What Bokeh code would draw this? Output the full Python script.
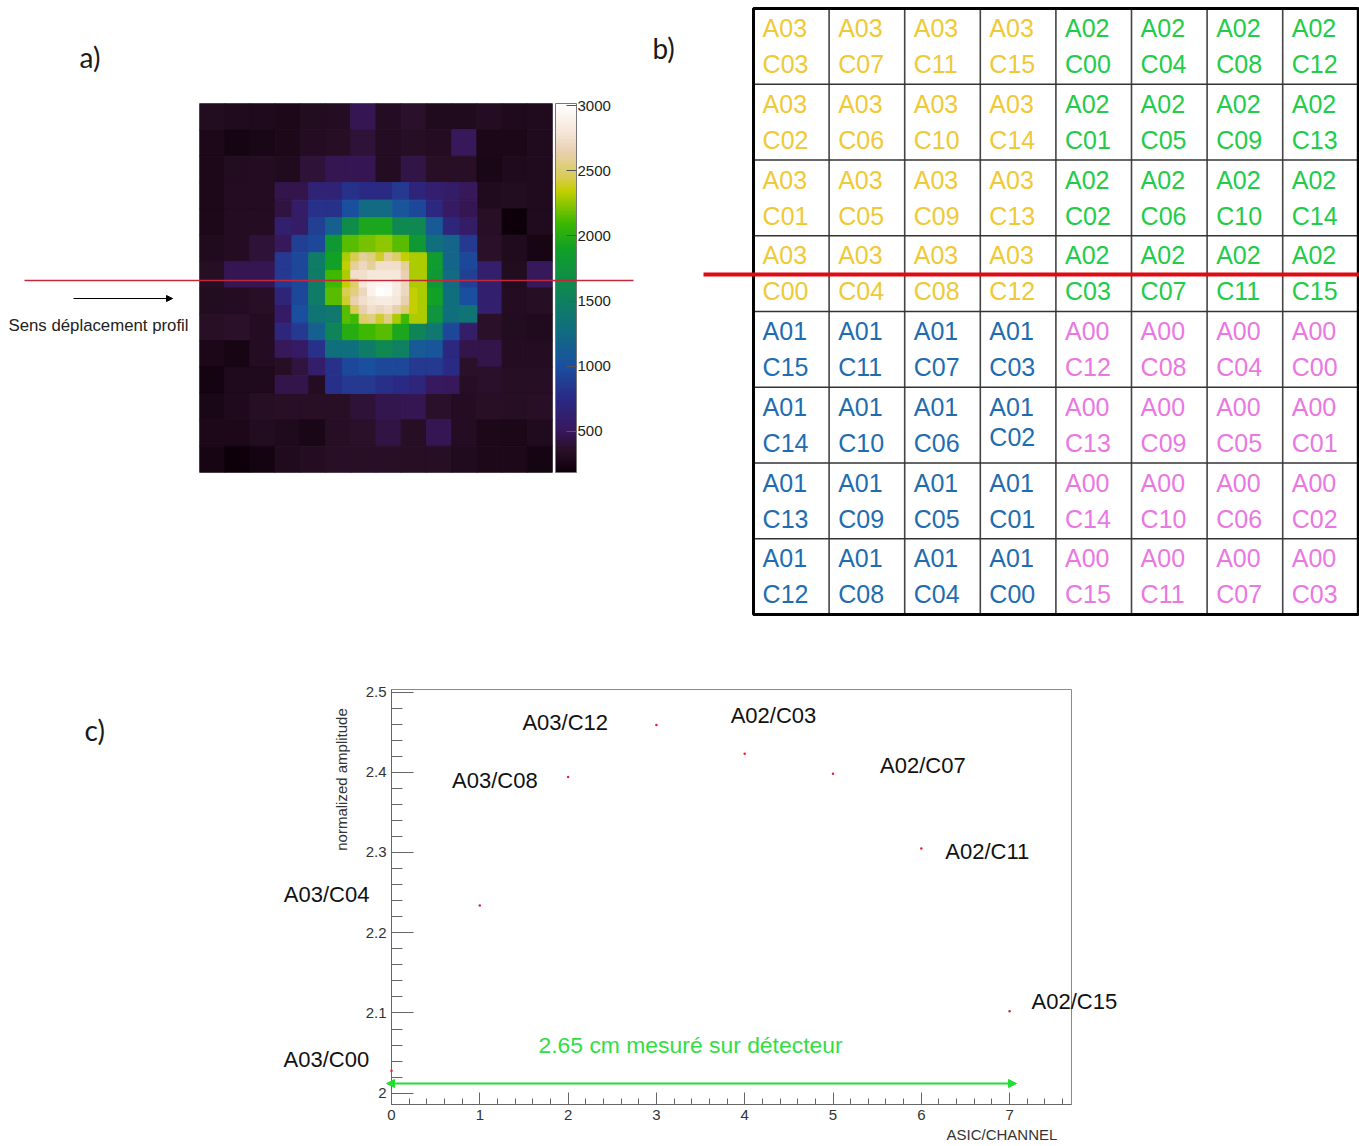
import numpy as np
from bokeh.plotting import figure
from bokeh.embed import file_html
from bokeh.resources import INLINE
from bokeh.core.properties import value
from bokeh.models import (Range1d, LinearColorMapper, ColorBar, FixedTicker, Label, LabelSet,
                          Arrow, NormalHead, ColumnDataSource, NumeralTickFormatter)
from bokeh.transform import transform

# ---------- data ----------
# panel a: amplitude map, three levels of binning (None = covered by a finer level)
_ = None
coarse = [
 [310,300,290,280,310,320,480,320,360,300,300,320,290,300],
 [270,230,250,270,320,330,400,320,330,320,500,260,260,300],
 [280,310,320,300,400,470,470,320,440,340,340,250,290,300],
 [280,320,320,_,_,_,_,_,_,_,_,300,310,300],
 [280,320,320,_,_,_,_,_,_,_,_,340,190,300],
 [300,320,400,_,_,_,_,_,_,_,_,350,300,240],
 [330,480,480,_,_,_,_,_,_,_,_,600,310,500],
 [310,320,340,_,_,_,_,_,_,_,_,620,320,330],
 [340,350,320,_,_,_,_,_,_,_,_,350,310,300],
 [260,240,320,_,_,_,_,_,_,_,_,450,320,320],
 [220,290,290,_,_,_,_,_,_,_,_,360,330,330],
 [250,290,330,340,340,340,400,460,470,360,320,340,330,340],
 [270,280,310,290,250,330,350,430,330,480,320,280,260,300],
 [240,190,220,300,320,340,340,340,330,330,300,280,280,230],
]
medium = [
 [450,450,650,650,800,750,750,850,680,620,560,500],
 [420,560,800,800,1000,1250,1250,1050,950,720,540,480],
 [620,560,900,1150,1650,1950,1950,1600,1600,1100,700,560],
 [500,900,950,1800,2150,2200,2250,2150,1800,1300,1200,850],
 [850,950,1450,1900,_,_,_,_,_,1850,1200,950],
 [850,950,1450,2100,_,_,_,_,_,1800,1250,900],
 [680,950,1450,2150,_,_,_,_,_,1900,1300,1000],
 [550,1000,1350,1400,_,_,_,_,_,1750,1300,1350],
 [700,850,1150,1550,2000,2100,2150,1950,1550,1400,950,580],
 [500,550,800,1300,1300,1450,1600,1500,1100,1050,720,450],
 [330,420,580,800,950,1000,950,950,850,850,750,350],
 [450,450,320,780,850,850,780,750,700,520,500,330],
]
fine = [
 [2300,2450,2600,2550,2400,2600,2500,2350,2300,2300],
 [2350,2600,2700,2600,2750,2750,2750,2600,2300,2300],
 [2300,2750,2750,2800,2800,2800,2800,2650,2300,2300],
 [2350,2500,2800,2900,2950,2950,2850,2700,2300,2300],
 [2450,2550,2700,2900,3000,2980,2850,2700,2350,2300],
 [2400,2650,2750,2800,2850,2850,2800,2650,2350,2300],
 [2150,2450,2650,2750,2700,2750,2650,2500,2350,2300],
 [2150,2100,2500,2550,2400,2550,2300,2100,2300,2300],
]
colorbar_ticks = [500, 1000, 1500, 2000, 2500, 3000]
colormap_values = [181, 350, 500, 750, 1000, 1300, 1500, 1900, 2100, 2350, 2450, 2650, 2800, 3019]
colormap_colors = ["#0e000a", "#2a1028", "#38185e", "#2a2a84", "#1a50a0", "#10707c", "#0f8060",
                   "#10a028", "#3cb800", "#c4cf00", "#d8cc50", "#e8d0b0", "#f5e6d8", "#ffffff"]

# panel b: channel map
asics = [["A03"]*4 + ["A02"]*4]*4 + [["A01"]*4 + ["A00"]*4]*4
channels = [
 ["C03","C07","C11","C15","C00","C04","C08","C12"],
 ["C02","C06","C10","C14","C01","C05","C09","C13"],
 ["C01","C05","C09","C13","C02","C06","C10","C14"],
 ["C00","C04","C08","C12","C03","C07","C11","C15"],
 ["C15","C11","C07","C03","C12","C08","C04","C00"],
 ["C14","C10","C06","C02","C13","C09","C05","C01"],
 ["C13","C09","C05","C01","C14","C10","C06","C02"],
 ["C12","C08","C04","C00","C15","C11","C07","C03"],
]
asic_colors = {"A03": "#EFC936", "A02": "#22CC4A", "A01": "#1F6DB0", "A00": "#EA78E2"}

# panel c: profile
positions = [0, 1, 2, 3, 4, 5, 6, 7]
amplitudes = [2.028, 2.234, 2.394, 2.459, 2.423, 2.398, 2.305, 2.102]
point_names = ["A03/C00", "A03/C04", "A03/C08", "A03/C12", "A02/C03", "A02/C07", "A02/C11", "A02/C15"]

SANS = "Liberation Sans"
W, H = 1359, 1146

def at(x, y):
    return {"position": "absolute", "left": f"{x}px", "top": f"{y}px"}

# ---------- palette ----------
def _rgb(h):
    return [int(h[i:i+2], 16) for i in (1, 3, 5)]
_grid = np.linspace(colormap_values[0], colormap_values[-1], 256)
_chan = np.array([_rgb(c) for c in colormap_colors], dtype=float)
palette = ["#%02x%02x%02x" % tuple(int(round(np.interp(v, colormap_values, _chan[:, k]))) for k in range(3)) for v in _grid]
mapper = LinearColorMapper(palette=palette, low=colormap_values[0], high=colormap_values[-1])

# ---------- panel a ----------
A_W, A_H = 640, 640
FA = (199, 552, 103, 472)
fa = figure(width=A_W, height=A_H, x_range=Range1d(0, 14), y_range=Range1d(14, 0),
            output_backend="svg", toolbar_location=None, x_axis_type=None, y_axis_type=None,
            min_border_left=FA[0], min_border_right=A_W-FA[1], min_border_top=FA[2], min_border_bottom=A_H-FA[3],
            styles=at(0, 0))
fa.grid.visible = False
fa.outline_line_color = "#9a9a9a"

def level(rows, x0, y0, step):
    L, R, T, B, V = [], [], [], [], []
    for r, vals in enumerate(rows):
        for c, v in enumerate(vals):
            if v is None:
                continue
            L.append(x0+c*step); R.append(x0+(c+1)*step)
            T.append(y0+r*step); B.append(y0+(r+1)*step); V.append(v)
    return dict(left=L, right=R, top=T, bottom=B, v=V)

for rows, x0, y0, step in [(coarse, 0, 0, 1), (medium, 3, 3, 2/3), (fine, 5+2/3, 5+2/3, 1/3)]:
    fa.quad(source=ColumnDataSource(level(rows, x0, y0, step)), left="left", right="right", top="top", bottom="bottom",
            fill_color=transform("v", mapper), line_color=transform("v", mapper), line_width=1)

# ---------- panel b ----------
B_L, B_H = 640, 640
CW, RH, T0, X0 = 75.6, 75.75, 8, 753
fb = figure(width=W-B_L, height=B_H,
            x_range=Range1d((B_L-X0)/CW, (W-X0)/CW), y_range=Range1d((B_H-T0)/RH, -T0/RH),
            output_backend="svg", toolbar_location=None, x_axis_type=None, y_axis_type=None,
            min_border=0, min_border_left=0, min_border_right=0, min_border_top=0, min_border_bottom=0,
            outline_line_color=None, styles=at(B_L, 0))
fb.grid.visible = False
xs = list(range(9)); ys = list(range(9))
fb.segment(x0=xs, x1=xs, y0=[0]*9, y1=[8]*9, line_color="#444444", line_width=1.6)
fb.segment(x0=[0]*9, x1=[8]*9, y0=ys, y1=ys, line_color="#333333", line_width=1.4)
fb.quad(left=[0], right=[8], top=[0], bottom=[8], fill_color=None, line_color="black", line_width=3)
tx, ty, tt, tc = [], [], [], []
for r in range(8):
    for c in range(8):
        a, ch = asics[r][c], channels[r][c]
        tx += [c+0.12, c+0.12]
        shift = -0.08 if (r, c) == (5, 3) else 0
        ty += [r+0.258, r+0.733+shift]
        tt += [a, ch]
        tc += [asic_colors[a]]*2
fb.text(x=tx, y=ty, text=tt, text_color=tc, text_font=value(SANS), text_font_size="25px",
        text_baseline="middle", text_align="left")
fb.segment(x0=[(703-X0)/CW], x1=[(W-X0)/CW], y0=[(274-T0)/RH], y1=[(274-T0)/RH], line_color="#E00A12", line_width=4)

# ---------- panel c ----------
C_T, C_H = 650, 492
FC = (391, 1071, 689-C_T, 1104-C_T)
Y2, YS, XS = 1092.7-C_T, 802.4, 88.3
fc = figure(width=W, height=C_H, x_range=Range1d(0, (FC[1]-FC[0])/XS),
            y_range=Range1d(2-(FC[3]-Y2)/YS, 2+(Y2-FC[2])/YS),
            output_backend="svg", toolbar_location=None,
            min_border_left=FC[0], min_border_right=W-FC[1], min_border_top=FC[2], min_border_bottom=C_H-FC[3],
            styles=at(0, C_T))
fc.grid.visible = False
fc.outline_line_color = "#8a8a8a"
fc.xaxis.ticker = FixedTicker(ticks=positions, minor_ticks=[round(i*0.2, 1) for i in range(39)])
fc.yaxis.ticker = FixedTicker(ticks=[2, 2.1, 2.2, 2.3, 2.4, 2.5], minor_ticks=[round(2+i*0.02, 2) for i in range(26)])
fc.yaxis.formatter = NumeralTickFormatter(format="0.[0]")
for axis, major, minor in ((fc.xaxis, 12, 6), (fc.yaxis, 22, 11)):
    axis.major_tick_in = major; axis.major_tick_out = 0
    axis.minor_tick_in = minor; axis.minor_tick_out = 0
    axis.major_tick_line_color = "#666666"; axis.minor_tick_line_color = "#666666"
    axis.axis_line_color = "#666666"
    axis.major_label_text_font = SANS; axis.major_label_text_font_size = "15px"
    axis.major_label_text_color = "#333333"
    axis.major_label_standoff = 5
fc.yaxis.major_label_standoff = 5

# ---------- overlay for everything that lies outside the panels' frames ----------
ov = figure(width=W, height=H, x_range=Range1d(0, W), y_range=Range1d(H, 0),
            extra_x_ranges={"c": Range1d(-391/XS, (W-391)/XS)},
            extra_y_ranges={"c": Range1d(2-(H-1092.7)/YS, 2+1092.7/YS)},
            output_backend="svg", toolbar_location=None, x_axis_type=None, y_axis_type=None,
            min_border=0, min_border_left=0, min_border_right=0, min_border_top=0, min_border_bottom=0,
            outline_line_color=None, background_fill_alpha=0, border_fill_alpha=0, styles=at(0, 0))
ov.grid.visible = False

cb = ColorBar(color_mapper=mapper, ticker=FixedTicker(ticks=colorbar_ticks), width=21, height=369,
              location=(555, H-472), margin=0, padding=0,
              major_tick_in=10, major_tick_out=0, major_tick_line_color="#555555", minor_tick_line_color=None,
              bar_line_color="#777777", major_label_text_font=SANS, major_label_text_font_size="15px",
              major_label_text_color="#222222", label_standoff=1, border_line_color=None, background_fill_alpha=0)
ov.add_layout(cb, "center")

ov.scatter(positions, amplitudes, size=2.5, color="#E0203A", line_color=None, x_range_name="c", y_range_name="c")
ov.segment(x0=[24], x1=[633], y0=[280], y1=[280], line_color="#C2283A", line_width=1.6, level="overlay")
ov.add_layout(Arrow(end=NormalHead(size=6, fill_color="black", line_color="black"), x_start=73, x_end=172,
                    y_start=298, y_end=298, line_color="black", line_width=1))
ov.add_layout(Label(x=8, y=325, text="Sens déplacement profil", text_font=SANS, text_font_size="16.8px",
                    text_color="#222222", text_baseline="middle", text_align="left"))
for txt, lx, ly in [("a)", 79, 56), ("b)", 652, 47), ("c)", 84, 729)]:
    ov.add_layout(Label(x=lx, y=ly, text=txt, text_font="Lato", text_font_size="28px",
                        text_color="#1a1a1a", text_baseline="middle"))

label_dx = [-108, -196, -116, -134, -14, 47, 24, 22]
label_dy = [-11, -11, 3, -2, -38, -8, 3, -10]
ov.add_layout(LabelSet(source=ColumnDataSource(dict(x=positions, y=amplitudes, t=point_names,
                       dx=label_dx, dy=[-d for d in label_dy])), x="x", y="y", text="t", x_offset="dx", y_offset="dy",
                       x_range_name="c", y_range_name="c",
                       text_font=value(SANS), text_font_size="22px", text_color="#111111", text_baseline="middle"))
ov.add_layout(Label(x=538, y=1044, text="2.65 cm mesuré sur détecteur", text_font=SANS, text_font_size="22.9px",
                    text_color="#33DD44", text_baseline="middle"))
head = lambda: NormalHead(size=8, fill_color="#22DD33", line_color="#22DD33")
ov.add_layout(Arrow(start=head(), end=head(), x_start=386, x_end=1016, y_start=1083, y_end=1083,
                    line_color="#22DD33", line_width=2))
ov.add_layout(Label(x=341, y=779, text="normalized amplitude", angle=90, angle_units="deg", text_font=SANS,
                    text_font_size="15px", text_color="#333333", text_align="center", text_baseline="middle"))
ov.add_layout(Label(x=946, y=1134, text="ASIC/CHANNEL", text_font=SANS, text_font_size="15px",
                    text_color="#333333", text_baseline="middle"))

open("out.html", "w").write(file_html([fa, fb, fc, ov], INLINE))
